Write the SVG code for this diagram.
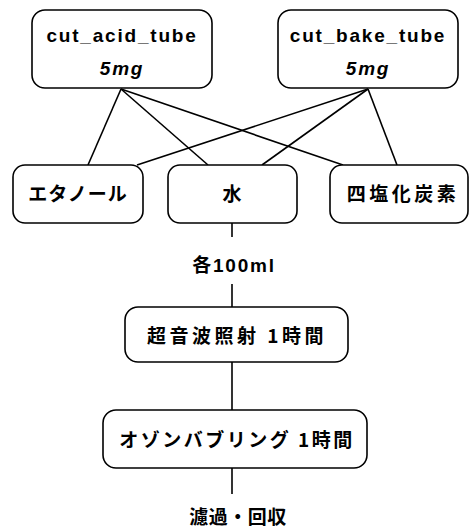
<svg xmlns="http://www.w3.org/2000/svg" width="470" height="532" viewBox="0 0 470 532">
<style>
.box{fill:#fff;stroke:#000;stroke-width:1.6}
.lat{font-family:"Liberation Sans","Noto Sans CJK JP",sans-serif;font-weight:bold;font-size:19px;letter-spacing:1.8px;text-anchor:middle;fill:#000}
.jp{font-family:"Noto Sans CJK JP",sans-serif;font-weight:bold;font-size:19px;text-anchor:middle;fill:#000}
.ln{stroke:#000;stroke-width:1.6;fill:none}
</style>
<rect width="470" height="532" fill="#fff"/>
<g id="connectors">
<line class="ln" x1="121" y1="89" x2="88" y2="165"/>
<line class="ln" x1="121" y1="89" x2="208" y2="165"/>
<line class="ln" x1="121" y1="89" x2="343" y2="165"/>
<line class="ln" x1="368" y1="89" x2="137" y2="165"/>
<line class="ln" x1="368" y1="89" x2="262" y2="165"/>
<line class="ln" x1="368" y1="89" x2="397" y2="165"/>
<line class="ln" x1="232" y1="223" x2="232" y2="237"/>
<line class="ln" x1="232" y1="284" x2="232" y2="307"/>
<line class="ln" x1="232" y1="362" x2="232" y2="410"/>
<line class="ln" x1="232" y1="468" x2="232" y2="494"/>
</g>
<g id="cut_acid_tube">
<rect class="box" x="32" y="10" width="180" height="78" rx="13"/>
<text class="lat" x="122" y="42">cut_acid_tube</text>
<text class="lat" x="122" y="75" font-style="italic">5mg</text>
</g>
<g id="cut_bake_tube">
<rect class="box" x="278" y="10" width="180" height="78" rx="13"/>
<text class="lat" x="368" y="42">cut_bake_tube</text>
<text class="lat" x="368" y="75" font-style="italic">5mg</text>
</g>
<g id="ethanol">
<rect class="box" x="13" y="165" width="130" height="58" rx="12"/>
<text class="jp" x="78" y="201" font-size="20" letter-spacing="1">エタノール</text>
</g>
<g id="water">
<rect class="box" x="168" y="165" width="129" height="58" rx="12"/>
<text class="jp" x="232" y="201" font-size="20">水</text>
</g>
<g id="ccl4">
<rect class="box" x="330" y="165" width="138" height="58" rx="12"/>
<text class="jp" x="403" y="201" font-size="21" letter-spacing="3.5">四塩化炭素</text>
</g>
<g id="each100ml">
<text class="lat" x="234" y="272" font-size="20" letter-spacing="1">各100ml</text>
</g>
<g id="ultrasonic">
<rect class="box" x="125" y="307" width="223" height="55" rx="13"/>
<text class="jp" x="237" y="343" font-size="21" letter-spacing="3.5">超音波照射 1時間</text>
</g>
<g id="ozone">
<rect class="box" x="103" y="410" width="264" height="58" rx="13"/>
<text class="jp" x="237" y="447" font-size="20" letter-spacing="2.5">オゾンバブリング 1時間</text>
</g>
<g id="filter">
<text class="jp" x="238" y="524" font-size="16" letter-spacing="0.5">濾過・回収</text>
</g>
</svg>
